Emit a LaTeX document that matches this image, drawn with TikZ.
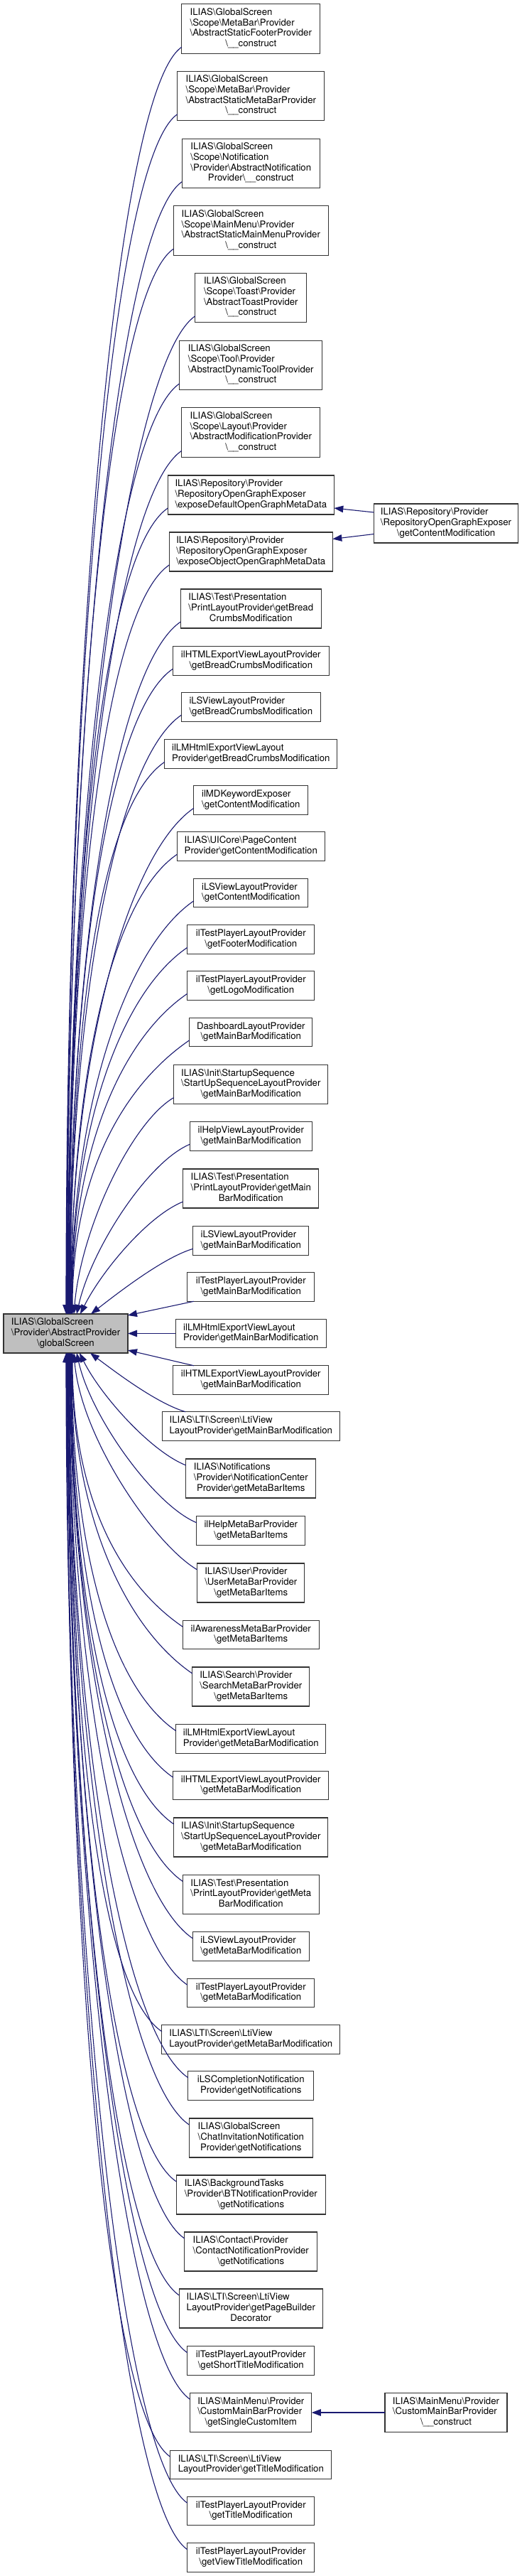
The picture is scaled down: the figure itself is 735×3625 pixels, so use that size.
\documentclass[tikz,border=0pt]{standalone}
\usepackage{fontspec}
\setmainfont{TeX Gyre Heros}
\usetikzlibrary{arrows.meta}
\definecolor{edgeblue}{HTML}{191970}
\definecolor{nodegrey}{HTML}{BFBFBF}
\definecolor{bordc}{HTML}{333333}
\newcommand\BSL{\textbackslash}
\newcommand\bxt[2]{\begin{tabular}{@{}l@{}}#1\\\multicolumn{1}{@{}c@{}}{#2}\end{tabular}}
\tikzset{
  box/.style={draw=bordc, line width=1.3pt, fill=white, inner sep=0pt, outer sep=0pt,
    font=\fontsize{13.2pt}{14.7pt}\selectfont, text=black},
  wh/.style 2 args={minimum width=#1pt, minimum height=#2pt},
  edge/.style={draw=edgeblue, line width=1.1pt, -{Triangle[length=13pt,width=9.5pt]}}
}
\begin{document}
\begin{tikzpicture}[x=1pt,y=-1pt]
\useasboundingbox (0,0) rectangle (735,3625);
% main node
\node[box, fill=nodegrey, wh={175}{55}] (L) at (92.5,1876.5) {\bxt{ILIAS\BSL GlobalScreen\\\BSL Provider\BSL AbstractProvider}{\BSL globalScreen}};
% column
\node[box, wh={195}{69.5}] (b1) at (353.3,40.5) {\bxt{ILIAS\BSL GlobalScreen\\\BSL Scope\BSL MetaBar\BSL Provider\\\BSL AbstractStaticFooterProvider}{\BSL\_\_construct}};
\node[box, wh={207}{69.5}] (b2) at (353.3,135) {\bxt{ILIAS\BSL GlobalScreen\\\BSL Scope\BSL MetaBar\BSL Provider\\\BSL AbstractStaticMetaBarProvider}{\BSL\_\_construct}};
\node[box, wh={194}{69.5}] (b3) at (353.3,230) {\bxt{ILIAS\BSL GlobalScreen\\\BSL Scope\BSL Notification\\\BSL Provider\BSL AbstractNotification}{Provider\BSL\_\_construct}};
\node[box, wh={218}{69.5}] (b4) at (353.3,324.5) {\bxt{ILIAS\BSL GlobalScreen\\\BSL Scope\BSL MainMenu\BSL Provider\\\BSL AbstractStaticMainMenuProvider}{\BSL\_\_construct}};
\node[box, wh={157}{69.5}] (b5) at (353.3,419) {\bxt{ILIAS\BSL GlobalScreen\\\BSL Scope\BSL Toast\BSL Provider\\\BSL AbstractToastProvider}{\BSL\_\_construct}};
\node[box, wh={201}{69.5}] (b6) at (353.3,514) {\bxt{ILIAS\BSL GlobalScreen\\\BSL Scope\BSL Tool\BSL Provider\\\BSL AbstractDynamicToolProvider}{\BSL\_\_construct}};
\node[box, wh={195}{69.5}] (b7) at (353.3,608.5) {\bxt{ILIAS\BSL GlobalScreen\\\BSL Scope\BSL Layout\BSL Provider\\\BSL AbstractModificationProvider}{\BSL\_\_construct}};
\node[box, wh={234}{55}] (b8) at (353.3,696.5) {\bxt{ILIAS\BSL Repository\BSL Provider\\\BSL RepositoryOpenGraphExposer}{\BSL exposeDefaultOpenGraphMetaData}};
\node[box, wh={230}{55}] (b9) at (353.3,776.5) {\bxt{ILIAS\BSL Repository\BSL Provider\\\BSL RepositoryOpenGraphExposer}{\BSL exposeObjectOpenGraphMetaData}};
\node[box, wh={198}{55}] (b10) at (353.3,856.5) {\bxt{ILIAS\BSL Test\BSL Presentation\\\BSL PrintLayoutProvider\BSL getBread}{CrumbsModification}};
\node[box, wh={220}{40.5}] (b11) at (353.3,930) {\bxt{ilHTMLExportViewLayoutProvider}{\BSL getBreadCrumbsModification}};
\node[box, wh={196}{40.5}] (b12) at (353.3,995) {\bxt{iLSViewLayoutProvider}{\BSL getBreadCrumbsModification}};
\node[box, wh={243}{40.5}] (b13) at (353.3,1061) {\bxt{ilLMHtmlExportViewLayout}{Provider\BSL getBreadCrumbsModification}};
\node[box, wh={161}{40.5}] (b14) at (353.3,1126) {\bxt{ilMDKeywordExposer}{\BSL getContentModification}};
\node[box, wh={208}{40.5}] (b15) at (353.3,1191) {\bxt{ILIAS\BSL UICore\BSL PageContent}{Provider\BSL getContentModification}};
\node[box, wh={161}{40.5}] (b16) at (353.3,1256.5) {\bxt{iLSViewLayoutProvider}{\BSL getContentModification}};
\node[box, wh={179}{40.5}] (b17) at (353.3,1322) {\bxt{ilTestPlayerLayoutProvider}{\BSL getFooterModification}};
\node[box, wh={179}{40.5}] (b18) at (353.3,1387) {\bxt{ilTestPlayerLayoutProvider}{\BSL getLogoModification}};
\node[box, wh={173}{40.5}] (b19) at (353.3,1452.5) {\bxt{DashboardLayoutProvider}{\BSL getMainBarModification}};
\node[box, wh={217}{55}] (b20) at (353.3,1526) {\bxt{ILIAS\BSL Init\BSL StartupSequence\\\BSL StartUpSequenceLayoutProvider}{\BSL getMainBarModification}};
\node[box, wh={172}{40.5}] (b21) at (353.3,1599) {\bxt{ilHelpViewLayoutProvider}{\BSL getMainBarModification}};
\node[box, wh={191}{55}] (b22) at (353.3,1672.5) {\bxt{ILIAS\BSL Test\BSL Presentation\\\BSL PrintLayoutProvider\BSL getMain}{BarModification}};
\node[box, wh={163}{40.5}] (b23) at (353.3,1746) {\bxt{iLSViewLayoutProvider}{\BSL getMainBarModification}};
\node[box, wh={179}{40.5}] (b24) at (353.3,1811) {\bxt{ilTestPlayerLayoutProvider}{\BSL getMainBarModification}};
\node[box, wh={212}{40.5}] (b25) at (353.3,1876.5) {\bxt{ilLMHtmlExportViewLayout}{Provider\BSL getMainBarModification}};
\node[box, wh={219}{40.5}] (b26) at (353.3,1942) {\bxt{ilHTMLExportViewLayoutProvider}{\BSL getMainBarModification}};
\node[box, wh={250}{40.5}] (b27) at (353.3,2007) {\bxt{ILIAS\BSL LTI\BSL Screen\BSL LtiView}{LayoutProvider\BSL getMainBarModification}};
\node[box, wh={183}{55}] (b28) at (353.3,2080.5) {\bxt{ILIAS\BSL Notifications\\\BSL Provider\BSL NotificationCenter}{Provider\BSL getMetaBarItems}};
\node[box, wh={153}{40.5}] (b29) at (353.3,2154) {\bxt{ilHelpMetaBarProvider}{\BSL getMetaBarItems}};
\node[box, wh={151}{55}] (b30) at (353.3,2227.5) {\bxt{ILIAS\BSL User\BSL Provider\\\BSL UserMetaBarProvider}{\BSL getMetaBarItems}};
\node[box, wh={192}{40.5}] (b31) at (353.3,2300.5) {\bxt{ilAwarenessMetaBarProvider}{\BSL getMetaBarItems}};
\node[box, wh={165}{55}] (b32) at (353.3,2373.5) {\bxt{ILIAS\BSL Search\BSL Provider\\\BSL SearchMetaBarProvider}{\BSL getMetaBarItems}};
\node[box, wh={211}{40.5}] (b33) at (353.3,2447) {\bxt{ilLMHtmlExportViewLayout}{Provider\BSL getMetaBarModification}};
\node[box, wh={219}{40.5}] (b34) at (353.3,2512.5) {\bxt{ilHTMLExportViewLayoutProvider}{\BSL getMetaBarModification}};
\node[box, wh={217}{55}] (b35) at (353.3,2585.5) {\bxt{ILIAS\BSL Init\BSL StartupSequence\\\BSL StartUpSequenceLayoutProvider}{\BSL getMetaBarModification}};
\node[box, wh={192}{55}] (b36) at (353.3,2666) {\bxt{ILIAS\BSL Test\BSL Presentation\\\BSL PrintLayoutProvider\BSL getMeta}{BarModification}};
\node[box, wh={164}{40.5}] (b37) at (353.3,2739) {\bxt{iLSViewLayoutProvider}{\BSL getMetaBarModification}};
\node[box, wh={179}{40.5}] (b38) at (353.3,2804.5) {\bxt{ilTestPlayerLayoutProvider}{\BSL getMetaBarModification}};
\node[box, wh={251}{40.5}] (b39) at (353.3,2870) {\bxt{ILIAS\BSL LTI\BSL Screen\BSL LtiView}{LayoutProvider\BSL getMetaBarModification}};
\node[box, wh={177}{40.5}] (b40) at (353.3,2935) {\bxt{iLSCompletionNotification}{Provider\BSL getNotifications}};
\node[box, wh={174}{55}] (b41) at (353.3,3008.5) {\bxt{ILIAS\BSL GlobalScreen\\\BSL ChatInvitationNotification}{Provider\BSL getNotifications}};
\node[box, wh={210}{55}] (b42) at (353.3,3088.5) {\bxt{ILIAS\BSL BackgroundTasks\\\BSL Provider\BSL BTNotificationProvider}{\BSL getNotifications}};
\node[box, wh={187}{55}] (b43) at (353.3,3168.5) {\bxt{ILIAS\BSL Contact\BSL Provider\\\BSL ContactNotificationProvider}{\BSL getNotifications}};
\node[box, wh={202}{55}] (b44) at (353.3,3248.5) {\bxt{ILIAS\BSL LTI\BSL Screen\BSL LtiView\\LayoutProvider\BSL getPageBuilder}{Decorator}};
\node[box, wh={179}{40.5}] (b45) at (353.3,3322) {\bxt{ilTestPlayerLayoutProvider}{\BSL getShortTitleModification}};
\node[box, wh={171}{55}] (b46) at (353.3,3395) {\bxt{ILIAS\BSL MainMenu\BSL Provider\\\BSL CustomMainBarProvider}{\BSL getSingleCustomItem}};
\node[box, wh={227}{40.5}] (b47) at (353.3,3468.5) {\bxt{ILIAS\BSL LTI\BSL Screen\BSL LtiView}{LayoutProvider\BSL getTitleModification}};
\node[box, wh={179}{40.5}] (b48) at (353.3,3533.5) {\bxt{ilTestPlayerLayoutProvider}{\BSL getTitleModification}};
\node[box, wh={179}{40.5}] (b49) at (353.3,3599) {\bxt{ilTestPlayerLayoutProvider}{\BSL getViewTitleModification}};
% right column
\node[box, wh={203}{55}] (R1) at (628,736.5) {\bxt{ILIAS\BSL Repository\BSL Provider\\\BSL RepositoryOpenGraphExposer}{\BSL getContentModification}};
\node[box, wh={172}{55}] (R2) at (628,3395) {\bxt{ILIAS\BSL MainMenu\BSL Provider\\\BSL CustomMainBarProvider}{\BSL\_\_construct}};
% edges from right column
\draw[edge] ([yshift=15.5pt]R1.west) -- ([yshift=-18.5pt]b8.east);
\draw[edge] ([yshift=-15pt]R1.west) -- ([yshift=18pt]b9.east);
\draw[edge] (R2.west) -- (b46.east);
% upper edges (generic)
\foreach \nm/\hx/\hh in {b1/88/892, b2/88.5/844, b3/89/797, b4/89.5/750, b5/90/702, b6/90.5/655,
  b7/91/608, b8/91.5/567, b9/92/527, b10/92.5/487, b11/93/454, b12/93.5/422, b13/94/389,
  b14/94.5/356, b15/95/324, b16/95.5/291, b17/96/258, b18/96.5/226, b19/97/193}
  \draw[edge] ([yshift=9pt]\nm.south west) .. controls +(-95,65) and +(0,-\hh) .. ([xshift=\hx pt]L.north west);
% upper edges (near)
\draw[edge] ([yshift=9pt]b20.south west) .. controls +(-60,35) and +(10,-120) .. ([xshift=99pt]L.north west);
\draw[edge] ([yshift=9pt]b21.south west) .. controls +(-60,25) and +(20,-90) .. ([xshift=103pt]L.north west);
\draw[edge] ([yshift=9pt]b22.south west) .. controls +(-50,20) and +(30,-60) .. ([xshift=108pt]L.north west);
\draw[edge] ([yshift=9pt]b23.south west) .. controls +(-40,12) and +(45,-35) .. ([xshift=123pt]L.north west);
% side edges
\draw[edge] ([xshift=9pt]b24.south west) -- ([yshift=-2pt]L.north east);
\draw[edge] (b25.west) -- (L.east);
\draw[edge] ([xshift=29pt]b26.north west) -- ([yshift=4pt]L.south east);
% lower edges (near)
\draw[edge] ([xshift=33pt]b27.north west) .. controls +(-40,-12) and +(40,30) .. ([xshift=122pt]L.south west);
\draw[edge] ([yshift=-9pt]b28.north west) .. controls +(-50,-20) and +(30,60) .. ([xshift=107pt]L.south west);
\draw[edge] ([yshift=-9pt]b29.north west) .. controls +(-60,-25) and +(20,90) .. ([xshift=103pt]L.south west);
\draw[edge] ([yshift=-9pt]b30.north west) .. controls +(-60,-35) and +(10,120) .. ([xshift=99pt]L.south west);
% lower edges (generic)
\foreach \nm/\hx/\hh in {b31/97/193, b32/96.5/226, b33/96/266, b34/95.5/299, b35/95/332, b36/94.5/372,
  b37/94/412, b38/93.5/445, b39/93/478, b40/92.5/510, b41/92/543, b42/91.5/583, b43/91/623,
  b44/90.5/663, b45/90/704, b46/89.5/737, b47/89/777, b48/88.5/809, b49/88/842}
  \draw[edge] ([yshift=-9pt]\nm.north west) .. controls +(-95,-65) and +(0,\hh) .. ([xshift=\hx pt]L.south west);
\end{tikzpicture}
\end{document}
